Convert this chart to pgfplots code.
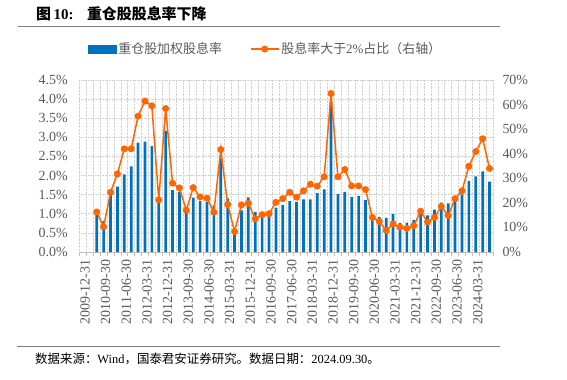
\documentclass[border=0pt]{standalone}
\usepackage{pgfplots}
\pgfplotsset{compat=1.18}
\usepackage{pgfplotstable}
\usepackage{fontspec}
\setmainfont{Liberation Serif}
\newfontfamily\cjk{Noto Sans CJK SC}
\definecolor{barblue}{RGB}{0,112,192}
\definecolor{lineorange}{RGB}{255,102,0}
\definecolor{gridgray}{RGB}{210,210,210}
\definecolor{axisgray}{RGB}{191,191,191}
\definecolor{labelgray}{RGB}{89,89,89}
\definecolor{rulegray}{RGB}{128,128,128}

\pgfplotstableread{
x bar line
2 1.05 16.3
3 0.81 10.2
4 1.49 24.3
5 1.71 31.8
6 2.03 42.0
7 2.24 42.0
8 2.86 55.3
9 2.89 61.4
10 2.77 59.5
11 1.29 21.2
12 3.17 58.4
13 1.62 28.0
14 1.58 26.1
15 1.18 17.0
16 1.42 26.2
17 1.34 22.4
18 1.31 21.9
19 1.22 16.2
20 2.45 41.7
21 1.40 19.4
22 0.48 8.3
23 1.09 19.2
24 1.43 19.8
25 1.05 13.5
26 0.92 15.2
27 1.01 15.6
28 1.16 20.2
29 1.23 21.7
30 1.33 24.3
31 1.31 22.3
32 1.38 24.9
33 1.38 27.6
34 1.54 26.8
35 1.64 30.6
36 3.93 64.5
37 1.52 30.6
38 1.57 33.6
39 1.44 26.9
40 1.47 26.9
41 1.36 25.4
42 0.92 14.1
43 0.92 12.4
44 0.89 8.8
45 0.99 11.4
46 0.76 10.1
47 0.77 9.6
48 0.84 10.7
49 0.99 16.6
50 0.96 12.2
51 1.11 14.1
52 1.29 18.5
53 1.27 14.8
54 1.42 21.7
55 1.51 24.9
56 1.86 34.9
57 1.98 40.9
58 2.11 46.1
59 1.84 34.0
}\datatable

\begin{document}
\begin{tikzpicture}
\path[use as bounding box] (0,0) rectangle (567bp,380bp);
% title
\node[anchor=base west, inner sep=0pt] at (36bp,360bp)
  {\fontsize{15}{15}\selectfont{\cjk\bfseries 图}\,\textbf{10:}\hspace{0.9em}{\cjk\bfseries 重仓股股息率下降}};
\draw[rulegray, line width=0.9bp] (18bp,354bp) -- (500bp,354bp);
% footer
\draw[rulegray, line width=0.9bp] (17bp,34bp) -- (500bp,34bp);
\node[anchor=base west, inner sep=0pt] at (35bp,17bp)
  {\fontsize{12.5}{12.5}\selectfont{\cjk 数据来源：}Wind{\cjk ，国泰君安证券研究。数据日期：}2024.09.30{\cjk 。}};

\begin{axis}[
  at={(79.5bp,128bp)}, anchor=south west,
  scale only axis, width=413.5bp, height=172bp,
  xmin=-0.5, xmax=59.5, ymin=0, ymax=4.5,
  axis x line*=bottom, axis y line*=left,
  x axis line style={draw=axisgray, line width=0.8bp},
  y axis line style={draw=none},
  ytick={0,0.5,1,1.5,2,2.5,3,3.5,4,4.5},
  yticklabels={0.0\%,0.5\%,1.0\%,1.5\%,2.0\%,2.5\%,3.0\%,3.5\%,4.0\%,4.5\%},
  ytick style={draw=none},
  xtick={0,3,...,57},
  xticklabels={2009-12-31,2010-09-30,2011-06-30,2012-03-31,2012-12-31,2013-09-30,2014-06-30,2015-03-31,2015-12-31,2016-09-30,2017-06-30,2018-03-31,2018-12-31,2019-09-30,2020-06-30,2021-03-31,2021-12-31,2022-09-30,2023-06-30,2024-03-31},
  major x tick style={draw=none},
  minor xtick={-0.5,0.5,...,59.5},
  minor x tick style={draw=axisgray, line width=0.6bp},
  minor tick length=3.5bp,
  tick align=outside,
  xminorgrids=true, ymajorgrids=true,
  grid style={densely dotted, gridgray, line width=0.6bp},
  tick label style={font=\fontsize{14}{14}\selectfont, text=labelgray},
  xticklabel style={rotate=90, anchor=east, yshift=-2bp},
  yticklabel style={xshift=-4bp},
]
\addplot[ybar, fill=barblue, draw=none, bar width=2.7bp, bar shift=0pt] table[x=x, y=bar] {\datatable};
\end{axis}

\begin{axis}[
  at={(79.5bp,128bp)}, anchor=south west,
  scale only axis, width=413.5bp, height=172bp,
  xmin=-0.5, xmax=59.5, ymin=0, ymax=70,
  axis x line=none, axis y line*=right,
  y axis line style={draw=none},
  ytick={0,10,20,30,40,50,60,70},
  yticklabels={0\%,10\%,20\%,30\%,40\%,50\%,60\%,70\%},
  ytick style={draw=none},
  tick label style={font=\fontsize{14}{14}\selectfont, text=labelgray},
  yticklabel style={xshift=6bp},
  clip=false,
  legend columns=2,
  legend style={at={(axis description cs:0.45,1.18)}, anchor=center, draw=none, fill=none,
    font=\fontsize{13}{13}\selectfont, text=labelgray,
    /tikz/every even column/.append style={column sep=26bp}},
]
\addlegendimage{legend image code/.code={\fill[barblue] (0bp,-4bp) rectangle (28bp,4bp);}}
\addlegendentry{{\cjk 重仓股加权股息率}}
\addplot[lineorange, line width=1.5bp, mark=*, mark size=2.7bp, mark options={fill=lineorange, draw=lineorange},
  legend image code/.code={\draw[lineorange, line width=1.5bp] (0bp,0bp) -- (28bp,0bp); \fill[lineorange] (14bp,0bp) circle (2.7bp);}]
  table[x=x, y=line] {\datatable};
\addlegendentry{{\cjk 股息率大于}2\%{\cjk 占比（右轴）}}
\end{axis}
\end{tikzpicture}
\end{document}
